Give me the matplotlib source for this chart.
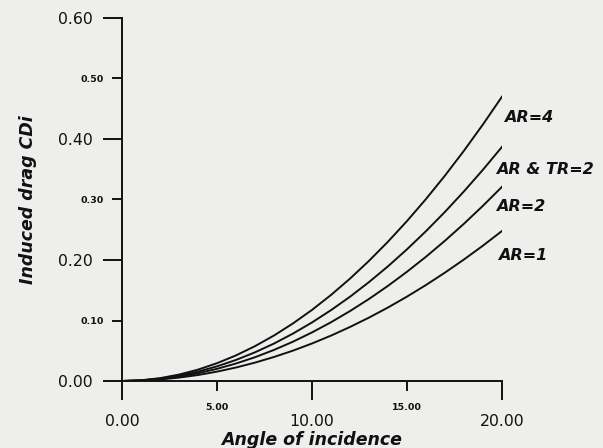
import numpy as np
import matplotlib.pyplot as plt
from matplotlib.ticker import MultipleLocator, FormatStrFormatter

# angle of incidence (deg) and induced drag coefficient
angle = list(range(0, 21))
cdi_ar4 = [0, .0012, .0047, .0106, .0188, .0294, .0423, .0576, .0752, .0952, .1175,
           .1422, .1692, .1986, .2303, .2644, .3008, .3396, .3807, .4242, .470]
cdi_ar_tr2 = [0, .0010, .0039, .0087, .0155, .0242, .0348, .0474, .0619, .0784, .0968,
              .1171, .1393, .1635, .1896, .2177, .2477, .2796, .3135, .3493, .387]
cdi_ar2 = [0, .0008, .0032, .0072, .0128, .0201, .0289, .0393, .0514, .0650, .0803,
           .0971, .1156, .1356, .1573, .1806, .2054, .2319, .2600, .2897, .321]
cdi_ar1 = [0, .0006, .0025, .0056, .0099, .0155, .0223, .0304, .0397, .0502, .0620,
           .0750, .0893, .1048, .1215, .1395, .1587, .1792, .2009, .2238, .248]

labels = ['AR=4', 'AR & TR=2', 'AR=2', 'AR=1']
label_y = [0.435, 0.350, 0.289, 0.207]
label_x = [20.1, 19.7, 19.7, 19.8]

bg = '#eeeeec'
ink = '#111111'
plt.rcParams['font.family'] = ['DejaVu Sans']

fig = plt.figure(figsize=(6.03, 4.48), dpi=100, facecolor=bg)
ax = fig.add_axes([122/603, 1-381/448, 380/603, 363/448])
ax.set_facecolor(bg)

for ys in [cdi_ar4, cdi_ar_tr2, cdi_ar2, cdi_ar1]:
    ax.plot(angle, ys, color=ink, lw=1.4)

for lab, lx, ly in zip(labels, label_x, label_y):
    ax.text(lx, ly, lab, fontsize=11.5, fontweight='bold', fontstyle='italic',
            color=ink, va='center', ha='left')

ax.set_xlim(0, 20)
ax.set_ylim(0, 0.6)
for s in ['top', 'right']:
    ax.spines[s].set_visible(False)
for s in ['left', 'bottom']:
    ax.spines[s].set_linewidth(1.4)
    ax.spines[s].set_color(ink)

ax.xaxis.set_major_locator(MultipleLocator(10))
ax.xaxis.set_minor_locator(MultipleLocator(5))
ax.yaxis.set_major_locator(MultipleLocator(0.2))
ax.yaxis.set_minor_locator(MultipleLocator(0.1))
for a in [ax.xaxis, ax.yaxis]:
    a.set_major_formatter(FormatStrFormatter('%.2f'))
    a.set_minor_formatter(FormatStrFormatter('%.2f'))

ax.tick_params(which='major', length=14, width=1.4, labelsize=11.3, color=ink,
               labelcolor=ink)
ax.tick_params(which='minor', length=7, width=1.4, labelsize=6.8, color=ink,
               labelcolor=ink)
ax.tick_params(axis='y', which='major', pad=7)
ax.tick_params(axis='y', which='minor', pad=6)
ax.tick_params(axis='x', which='major', pad=10)
ax.tick_params(axis='x', which='minor', pad=9)
for t in ax.xaxis.get_minorticklabels() + ax.yaxis.get_minorticklabels():
    t.set_fontweight('bold')

ax.set_xlabel('Angle of incidence', fontsize=12.5, fontweight='bold', fontstyle='italic',
              color=ink, labelpad=1)
ax.set_ylabel('Induced drag CDi', fontsize=12.5, fontweight='bold', fontstyle='italic',
              color=ink, labelpad=15)

fig.savefig('out.png', dpi=100, facecolor=bg)
